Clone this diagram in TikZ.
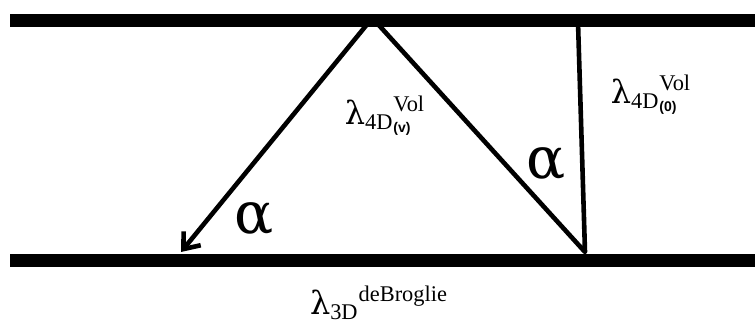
\documentclass[tikz,border=0pt]{standalone}
\usepackage{amsmath}
\usepackage{fontspec}
\setmainfont{Liberation Serif}
\setsansfont{Liberation Sans}
\newfontfamily\greekfont{DejaVu Serif}
\usetikzlibrary{arrows.meta}
\newcommand{\tagsf}[1]{\textsf{\textbf{\fontsize{7}{8}\selectfont(#1)}}}
\newcommand{\lam}{\text{\greekfont λ}}
\begin{document}
\begin{tikzpicture}[x=0.5pt, y=-0.5pt,
	wall/.style={fill=black},
	ray/.style={line width=2.3pt},
	lbl/.style={inner sep=0pt, font=\fontsize{16}{19}\selectfont},
	ang/.style={inner sep=0pt, font=\greekfont\fontsize{29}{32}\selectfont}]
	\useasboundingbox (0,0) rectangle (755,325);

	% the two walls
	\fill[wall] (10,14) rectangle (755,27);
	\fill[wall] (10,254) rectangle (755,267);

	\coordinate (apexL) at (369,22);
	\coordinate (apexR) at (376,22);
	\coordinate (hit)   at (181,252);
	\coordinate (foot)  at (585,252);
	\coordinate (up)    at (578,22);

	\node[lbl] (lv) at (385,116) {$\lam_{\text{4D}}{}^{\text{Vol}}_{\text{\tagsf{v}}}$};
	\node[lbl] (l0) at (651,95) {$\lam_{\text{4D}}{}^{\text{Vol}}_{\text{\tagsf{0}}}$};
	\node[lbl] (lb) at (379,303) {$\lam_{\text{3D}}{}^{\text{deBroglie}}$};
	\node[ang] (aL) at (254,219) {α};
	\node[ang] (aR) at (546,164) {α};

	\draw[ray, -{Straight Barb[length=7pt, width=11pt]}] (apexL) -- (hit);
	\draw[ray, line join=round] (apexR) -- (foot) -- (up);
\end{tikzpicture}
\end{document}
